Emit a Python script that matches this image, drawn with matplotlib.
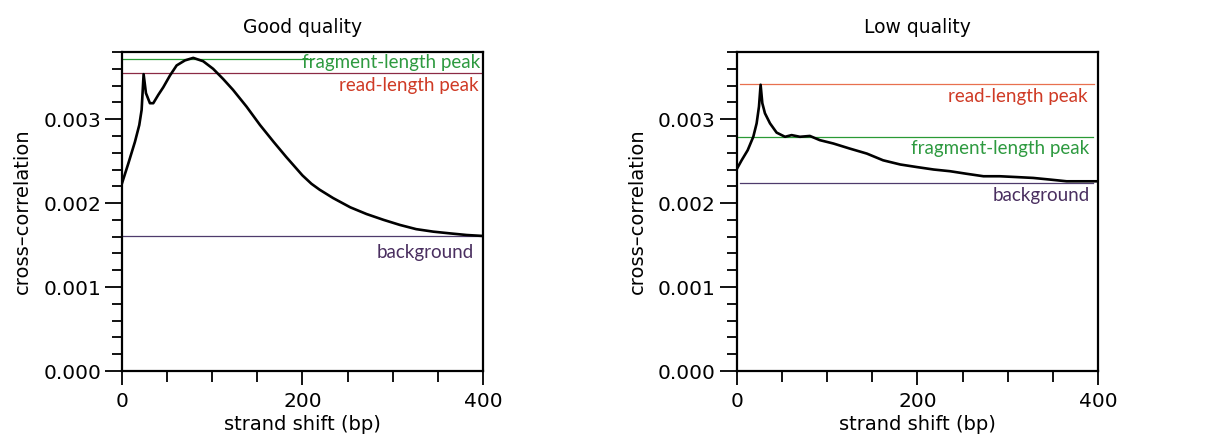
import matplotlib
matplotlib.use("Agg")
import matplotlib.pyplot as plt
from matplotlib.ticker import MultipleLocator, FixedFormatter

# ---- data ----
good_x = [0, 7, 14.4, 19.2, 21.8, 24, 26.6, 31, 34.7, 40.3, 45.8, 53.2, 60.6, 69.8, 79,
          90, 101, 112, 123, 138, 153, 168, 182, 191, 200, 210, 219, 234, 253, 271, 290, 308,
          326, 345, 363, 382, 398]
good_y = [0.002234, 0.00247, 0.00273, 0.00293, 0.00311, 0.003536, 0.00331, 0.00319, 0.00319,
          0.00329, 0.00338, 0.00352, 0.00364, 0.00370, 0.00373, 0.00369, 0.00360, 0.00348,
          0.00335, 0.00315, 0.00293, 0.00273, 0.00255, 0.00244, 0.00233, 0.00223, 0.00216,
          0.00206, 0.00195, 0.00187, 0.00180, 0.00174, 0.00169, 0.00166, 0.00164, 0.00162,
          0.00161]

low_x = [0, 5.5, 12.2, 18.4, 22.1, 24.7, 26.5, 28.4, 31.3, 36.9, 44.2, 53.5, 60.8, 70, 81,
         92, 107, 125, 144, 162, 181, 199, 218, 236, 254, 273, 291, 310, 328, 347, 365,
         383, 400]
low_y = [0.002403, 0.00251, 0.00263, 0.00279, 0.00295, 0.00315, 0.00341, 0.00319, 0.00307,
         0.00295, 0.00284, 0.00279, 0.00281, 0.00279, 0.00280, 0.00275, 0.00271, 0.00265,
         0.00259, 0.00251, 0.00246, 0.00243, 0.00240, 0.00238, 0.00235, 0.00232, 0.00232,
         0.00231, 0.00230, 0.00228, 0.00226, 0.00226, 0.00226]

titles = ["Good quality", "Low quality"]
good_refs = {"fragment": 0.003722, "read": 0.003544, "background": 0.001611}
low_refs = {"read": 0.003422, "fragment": 0.00279, "background": 0.00224}
ref_labels = {"fragment": "fragment-length peak", "read": "read-length peak",
              "background": "background"}
y_ticks = [0.000, 0.001, 0.002, 0.003]
y_tick_labels = ["0.000", "0.001", "0.002", "0.003"]
x_ticks = [0, 200, 400]

# ---- styling ----
GREEN_LINE = "#2a9a35"
GREEN_TEXT = "#2e9a40"
RED_TEXT = "#cf3a25"
PURPLE_LINE = "#4e3b6c"
PURPLE_TEXT = "#4a2f60"
LABEL_FONT = ["Lato", "DejaVu Sans"]

fig = plt.figure(figsize=(12.11, 4.37), dpi=100)
ax1 = fig.add_axes([0.1007, 0.151, 0.2981, 0.730])
ax2 = fig.add_axes([0.6083, 0.151, 0.2986, 0.730])


def style(ax, title):
    ax.set_xlim(0, 400)
    ax.set_ylim(0, 0.0038)
    ax.set_yticks(y_ticks)
    ax.yaxis.set_major_formatter(FixedFormatter(y_tick_labels))
    ax.yaxis.set_minor_locator(MultipleLocator(0.0002))
    ax.set_xticks(x_ticks)
    ax.xaxis.set_minor_locator(MultipleLocator(50))
    ax.tick_params(axis="y", which="major", direction="out", length=12, width=1.3,
                   labelsize=14.5, pad=3)
    ax.tick_params(axis="y", which="minor", direction="out", length=7, width=1.3)
    ax.tick_params(axis="x", which="major", direction="out", length=10, width=1.3,
                   labelsize=14.5, pad=5)
    ax.tick_params(axis="x", which="minor", direction="out", length=8, width=1.3)
    for s in ax.spines.values():
        s.set_linewidth(1.6)
    ax.set_xlabel("strand shift (bp)", fontsize=14, labelpad=3)
    ax.set_ylabel("cross\u2013correlation", fontsize=14, labelpad=8)
    ax.set_title(title, fontsize=13.5, pad=14)


style(ax1, titles[0])
style(ax2, titles[1])

# Left panel: good quality
ax1.plot([0, 212], [good_refs["fragment"]] * 2, color=GREEN_LINE, lw=0.9)
ax1.plot([0, 400], [good_refs["read"]] * 2, color="#8b2a45", lw=0.9)
ax1.plot([0, 400], [good_refs["background"]] * 2, color=PURPLE_LINE, lw=0.9)
ax1.plot(good_x, good_y, color="black", lw=1.9, solid_joinstyle="round")
ax1.text(396.5, 0.003675, ref_labels["fragment"], color=GREEN_TEXT, ha="right", va="center",
         fontsize=13.5, family=LABEL_FONT)
ax1.text(395, 0.003405, ref_labels["read"], color=RED_TEXT, ha="right", va="center",
         fontsize=13.5, family=LABEL_FONT)
ax1.text(390, 0.001413, ref_labels["background"], color=PURPLE_TEXT, ha="right", va="center",
         fontsize=13.5, family=LABEL_FONT)

# Right panel: low quality
ax2.plot([3.7, 395.6], [low_refs["read"]] * 2, color="#e8704f", lw=0.9)
ax2.plot([0, 394.5], [low_refs["fragment"]] * 2, color=GREEN_LINE, lw=0.9)
ax2.plot([3.7, 394.5], [low_refs["background"]] * 2, color=PURPLE_LINE, lw=0.9)
ax2.plot(low_x, low_y, color="black", lw=1.9, solid_joinstyle="round")
ax2.text(388, 0.00327, ref_labels["read"], color=RED_TEXT, ha="right", va="center",
         fontsize=13.5, family=LABEL_FONT)
ax2.text(390, 0.002654, ref_labels["fragment"], color=GREEN_TEXT, ha="right", va="center",
         fontsize=13.5, family=LABEL_FONT)
ax2.text(391, 0.002085, ref_labels["background"], color=PURPLE_TEXT, ha="right", va="center",
         fontsize=13.5, family=LABEL_FONT)

fig.savefig("out.png", dpi=100)
